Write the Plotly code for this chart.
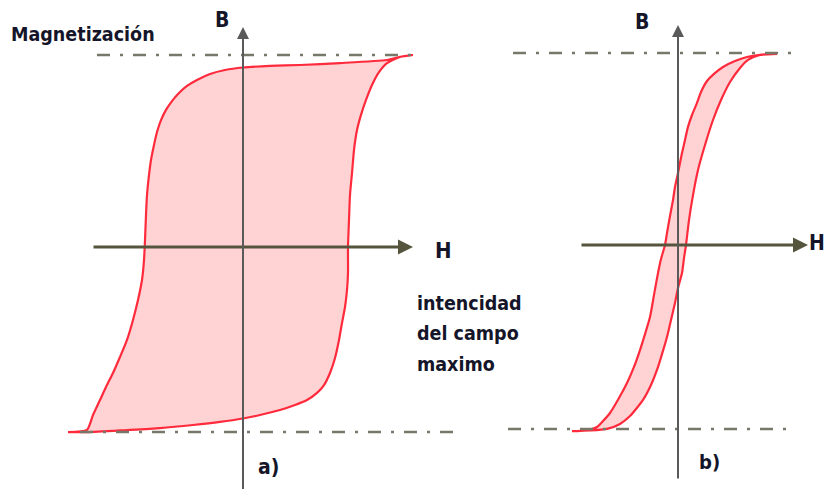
import plotly.graph_objects as go

# ---- Loop a): hard magnetic material (wide hysteresis loop) ----
# H in arbitrary field units, B normalised to the upper saturation level
a_desc_H = [1.70, 1.57, 1.44, 0.97, 0.57, 0.27, 0.00, -0.18, -0.33, -0.46,
            -0.56, -0.64, -0.71, -0.77, -0.82, -0.86, -0.89, -0.92, -0.94, -0.96,
            -0.97, -0.98, -0.99, -1.01, -1.05, -1.10, -1.16, -1.23, -1.30, -1.37,
            -1.43, -1.50, -1.56, -1.75]
a_desc_B = [1.000, 0.990, 0.974, 0.958, 0.948, 0.943, 0.935, 0.922, 0.901, 0.870,
            0.839, 0.802, 0.760, 0.714, 0.661, 0.599, 0.531, 0.453, 0.375, 0.271,
            0.167, 0.036, -0.068, -0.172, -0.276, -0.380, -0.484, -0.573, -0.656, -0.729,
            -0.797, -0.875, -0.953, -0.964]
a_asc_H = [-1.75, -1.56, -1.16, -0.83, -0.50, -0.23, 0.00, 0.17, 0.37, 0.52,
           0.64, 0.74, 0.81, 0.87, 0.92, 0.96, 0.99, 1.02, 1.04, 1.05,
           1.05, 1.06, 1.07, 1.09, 1.11, 1.14, 1.18, 1.23, 1.29, 1.36,
           1.44, 1.57, 1.70]
a_asc_B = [-0.964, -0.964, -0.953, -0.943, -0.927, -0.911, -0.893, -0.875, -0.849, -0.823,
           -0.797, -0.760, -0.719, -0.656, -0.578, -0.484, -0.396, -0.3125, -0.224, -0.135,
           0.000, 0.141, 0.271, 0.385, 0.505, 0.609, 0.688, 0.766, 0.844, 0.911,
           0.958, 0.990, 1.000]

# ---- Loop b): soft magnetic material (narrow hysteresis loop) ----
b_desc_H = [0.99, 0.82, 0.69, 0.57, 0.45, 0.36, 0.29, 0.23, 0.19, 0.14,
            0.10, 0.07, 0.04, 0.02, 0.00, -0.03, -0.05, -0.08, -0.11, -0.13,
            -0.17, -0.20, -0.24, -0.28, -0.33, -0.38, -0.44, -0.51, -0.59, -0.68,
            -0.75, -0.81, -0.90, -1.01, -1.06]
b_desc_B = [0.995, 0.990, 0.979, 0.958, 0.927, 0.891, 0.854, 0.797, 0.740, 0.677,
            0.615, 0.547, 0.479, 0.427, 0.375, 0.302, 0.234, 0.151, 0.0625, 0.000,
            -0.073, -0.146, -0.260, -0.375, -0.464, -0.547, -0.635, -0.719, -0.797, -0.875,
            -0.917, -0.948, -0.964, -0.969, -0.969]
b_asc_H = [-1.06, -0.88, -0.71, -0.58, -0.48, -0.35, -0.27, -0.21, -0.16, -0.11,
           -0.07, -0.03, 0.00, 0.04, 0.06, 0.08, 0.11, 0.15, 0.20, 0.27,
           0.35, 0.43, 0.52, 0.62, 0.70, 0.82, 0.99]
b_asc_B = [-0.969, -0.966, -0.958, -0.932, -0.891, -0.807, -0.729, -0.651, -0.568, -0.479,
           -0.391, -0.302, -0.224, -0.146, -0.068, 0.000, 0.130, 0.260, 0.391, 0.521,
           0.651, 0.755, 0.849, 0.922, 0.964, 0.990, 0.995]

# Saturation levels (dash-dot guides) and axis extents
a_sat_B = [1.0, -0.964]
a_sat_H = [(-1.46, 1.75), (-1.63, 2.12)]
b_sat_B = [1.0, -0.958]
b_sat_H = [(-1.65, 1.14), (-1.70, 1.14)]
a_H_axis = (-1.51, 1.70)
a_B_axis = (-1.27, 1.146)
b_H_axis = (-0.98, 1.30)
b_B_axis = (-1.224, 1.146)

LOOP_LINE = "#ff2a3c"
LOOP_FILL = "#ffd3d3"
GUIDE = "#77776a"
AXIS_H = "#55553e"
AXIS_B = "#5a5a5a"
TEXT = "#15152a"
FONT = "DejaVu Sans Condensed, Liberation Sans, sans-serif"

fig = go.Figure()

def add_loop(dH, dB, aH, aB, xa, ya):
    fig.add_trace(go.Scatter(
        x=dH + aH, y=dB + aB, xaxis=xa, yaxis=ya, mode="lines",
        line=dict(color=LOOP_LINE, width=2.2, shape="spline", smoothing=0.6),
        fill="toself", fillcolor=LOOP_FILL, hoverinfo="skip"))

def add_guides(levels, spans, xa, ya):
    for b, (h0, h1) in zip(levels, spans):
        fig.add_trace(go.Scatter(
            x=[h0, h1], y=[b, b], xaxis=xa, yaxis=ya, mode="lines",
            line=dict(color=GUIDE, width=2.5, dash="13px,10px,3px,10px"),
            hoverinfo="skip"))

add_loop(a_desc_H, a_desc_B, a_asc_H, a_asc_B, "x", "y")
add_loop(b_desc_H, b_desc_B, b_asc_H, b_asc_B, "x2", "y2")
add_guides(a_sat_B, a_sat_H, "x", "y")
add_guides(b_sat_B, b_sat_H, "x2", "y2")

annotations = []

def axis_arrow(xa, ya, x0, y0, x1, y1, color, width, size):
    annotations.append(dict(
        x=x1, y=y1, ax=x0, ay=y0, xref=xa, yref=ya, axref=xa, ayref=ya,
        text="", showarrow=True, arrowhead=2, arrowsize=size,
        arrowwidth=width, arrowcolor=color, standoff=0, startstandoff=0))

# H and B axes of both panels
axis_arrow("x", "y", a_H_axis[0], 0, a_H_axis[1], 0, AXIS_H, 3, 1.0)
axis_arrow("x", "y", 0, a_B_axis[0], 0, a_B_axis[1], AXIS_B, 2, 1.2)
axis_arrow("x2", "y2", b_H_axis[0], 0, b_H_axis[1], 0, AXIS_H, 3, 1.0)
axis_arrow("x2", "y2", 0, b_B_axis[0], 0, b_B_axis[1], AXIS_B, 2, 1.2)

def label(text, x, y, xref, yref, size, xanchor="center"):
    annotations.append(dict(
        text=text, x=x, y=y, xref=xref, yref=yref, showarrow=False,
        xanchor=xanchor, yanchor="middle",
        font=dict(family=FONT, size=size, color=TEXT, weight="bold")))

label("B", -0.21, 1.182, "x", "y", 21)
label("H", 2.00, -0.016, "x", "y", 22)
label("B", -0.36, 1.161, "x2", "y2", 21)
label("H", 1.385, 0.01, "x2", "y2", 21)

W, H = 825, 489
label("Magnetización", 9 / W, 1 - 34 / H, "paper", "paper", 19.5, "left")
for i, line in enumerate(["intencidad", "del campo", "maximo"]):
    label(line, 415 / W, 1 - (303 + 30.5 * i) / H, "paper", "paper", 19.5, "left")
label("a)", 268 / W, 1 - 467 / H, "paper", "paper", 21)
label("b)", 709 / W, 1 - 462 / H, "paper", "paper", 20)

hidden = dict(visible=False, showgrid=False, zeroline=False, fixedrange=True)
fig.update_layout(
    width=W, height=H, margin=dict(l=0, r=0, t=0, b=0),
    paper_bgcolor="white", plot_bgcolor="white", showlegend=False,
    xaxis=dict(domain=[0, 0.6], range=[-2.43, 2.52], **hidden),
    yaxis=dict(domain=[0, 1], range=[-1.2604, 1.2865], anchor="x", **hidden),
    xaxis2=dict(domain=[0.6, 1], range=[-1.83, 1.47], anchor="y2", **hidden),
    yaxis2=dict(domain=[0, 1], range=[-1.2708, 1.2760], anchor="x2", **hidden),
    annotations=annotations,
)

fig.write_html("out.html")
